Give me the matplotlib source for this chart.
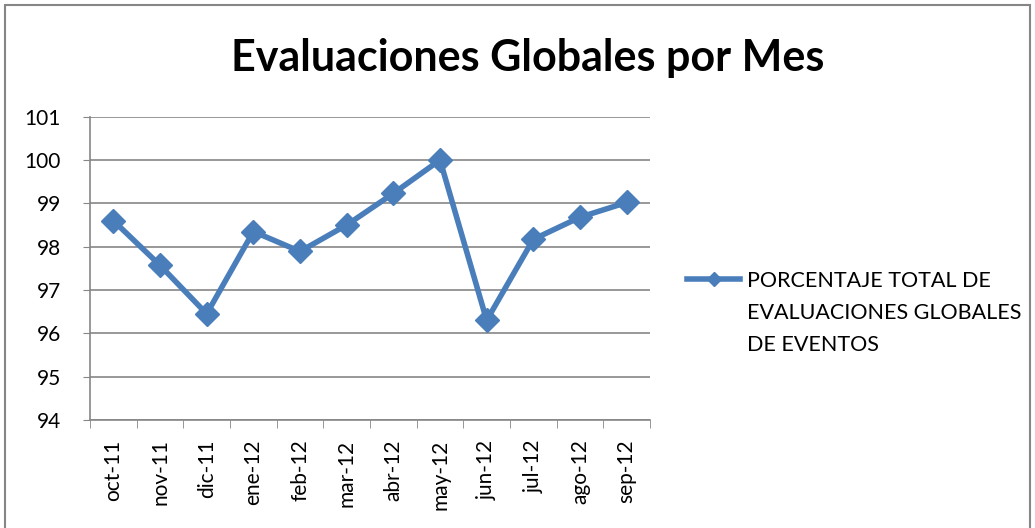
import matplotlib.pyplot as plt
from matplotlib.lines import Line2D
from matplotlib.patches import Rectangle
import numpy as np

meses = ['oct-11', 'nov-11', 'dic-11', 'ene-12', 'feb-12', 'mar-12',
         'abr-12', 'may-12', 'jun-12', 'jul-12', 'ago-12', 'sep-12']
porcentaje = [98.60, 97.57, 96.45, 98.35, 97.89, 98.50,
              99.23, 100.0, 96.30, 98.17, 98.68, 99.02]
y_ticks = [94, 95, 96, 97, 98, 99, 100, 101]
serie = 'PORCENTAJE TOTAL DE\nEVALUACIONES GLOBALES\nDE EVENTOS'

plt.rcParams['font.family'] = ['Lato', 'DejaVu Sans']
azul = '#4a7ebb'
gris = '#868686'

fig = plt.figure(figsize=(10.35, 5.28), dpi=100)
fig.patch.set_facecolor('white')
fig.patches.append(Rectangle((0.005, -0.01), 0.99, 1.0, transform=fig.transFigure,
                             fill=False, edgecolor=gris, linewidth=1.5))

ax = fig.add_axes([0.087, 0.2045, 0.541, 0.5745])
x = np.arange(len(meses))
ax.plot(x, porcentaje, color=azul, linewidth=4, marker='D', markersize=12,
        markeredgecolor=azul)

ax.set_xlim(-0.5, len(meses) - 0.5)
ax.set_ylim(94, 101)
ax.set_yticks(y_ticks)
ax.set_yticklabels([str(v) for v in y_ticks], fontsize=15)
ax.set_xticks(x)
ax.set_xticklabels(meses, rotation=90, fontsize=15)
ax.set_xticks(np.arange(len(meses) + 1) - 0.5, minor=True)
ax.tick_params(axis='x', which='major', length=0, pad=14)
ax.tick_params(axis='x', which='minor', length=6, color=gris, direction='out')
ax.tick_params(axis='y', length=5, color=gris, direction='out', pad=16)

ax.grid(axis='y', color=gris, linewidth=1.2)
ax.set_axisbelow(True)
for s in ['top', 'right']:
    ax.spines[s].set_visible(False)
for s in ['left', 'bottom']:
    ax.spines[s].set_color(gris)
    ax.spines[s].set_linewidth(1.2)

fig.text(0.51, 0.865, 'Evaluaciones Globales por Mes', ha='center', va='baseline',
         fontsize=31, fontweight='bold')

# legend key: short line with a small diamond, text to its right
fig.add_artist(Line2D([687 / 1035, 740 / 1035], [1 - 279 / 528] * 2,
                      transform=fig.transFigure, color=azul, linewidth=4))
fig.add_artist(Line2D([714 / 1035], [1 - 279 / 528], transform=fig.transFigure,
                      color=azul, marker='D', markersize=7))
fig.text(747 / 1035, 1 - 271 / 528, serie, ha='left', va='top',
         fontsize=15.5, linespacing=1.75)

fig.savefig('out.png', dpi=100)
